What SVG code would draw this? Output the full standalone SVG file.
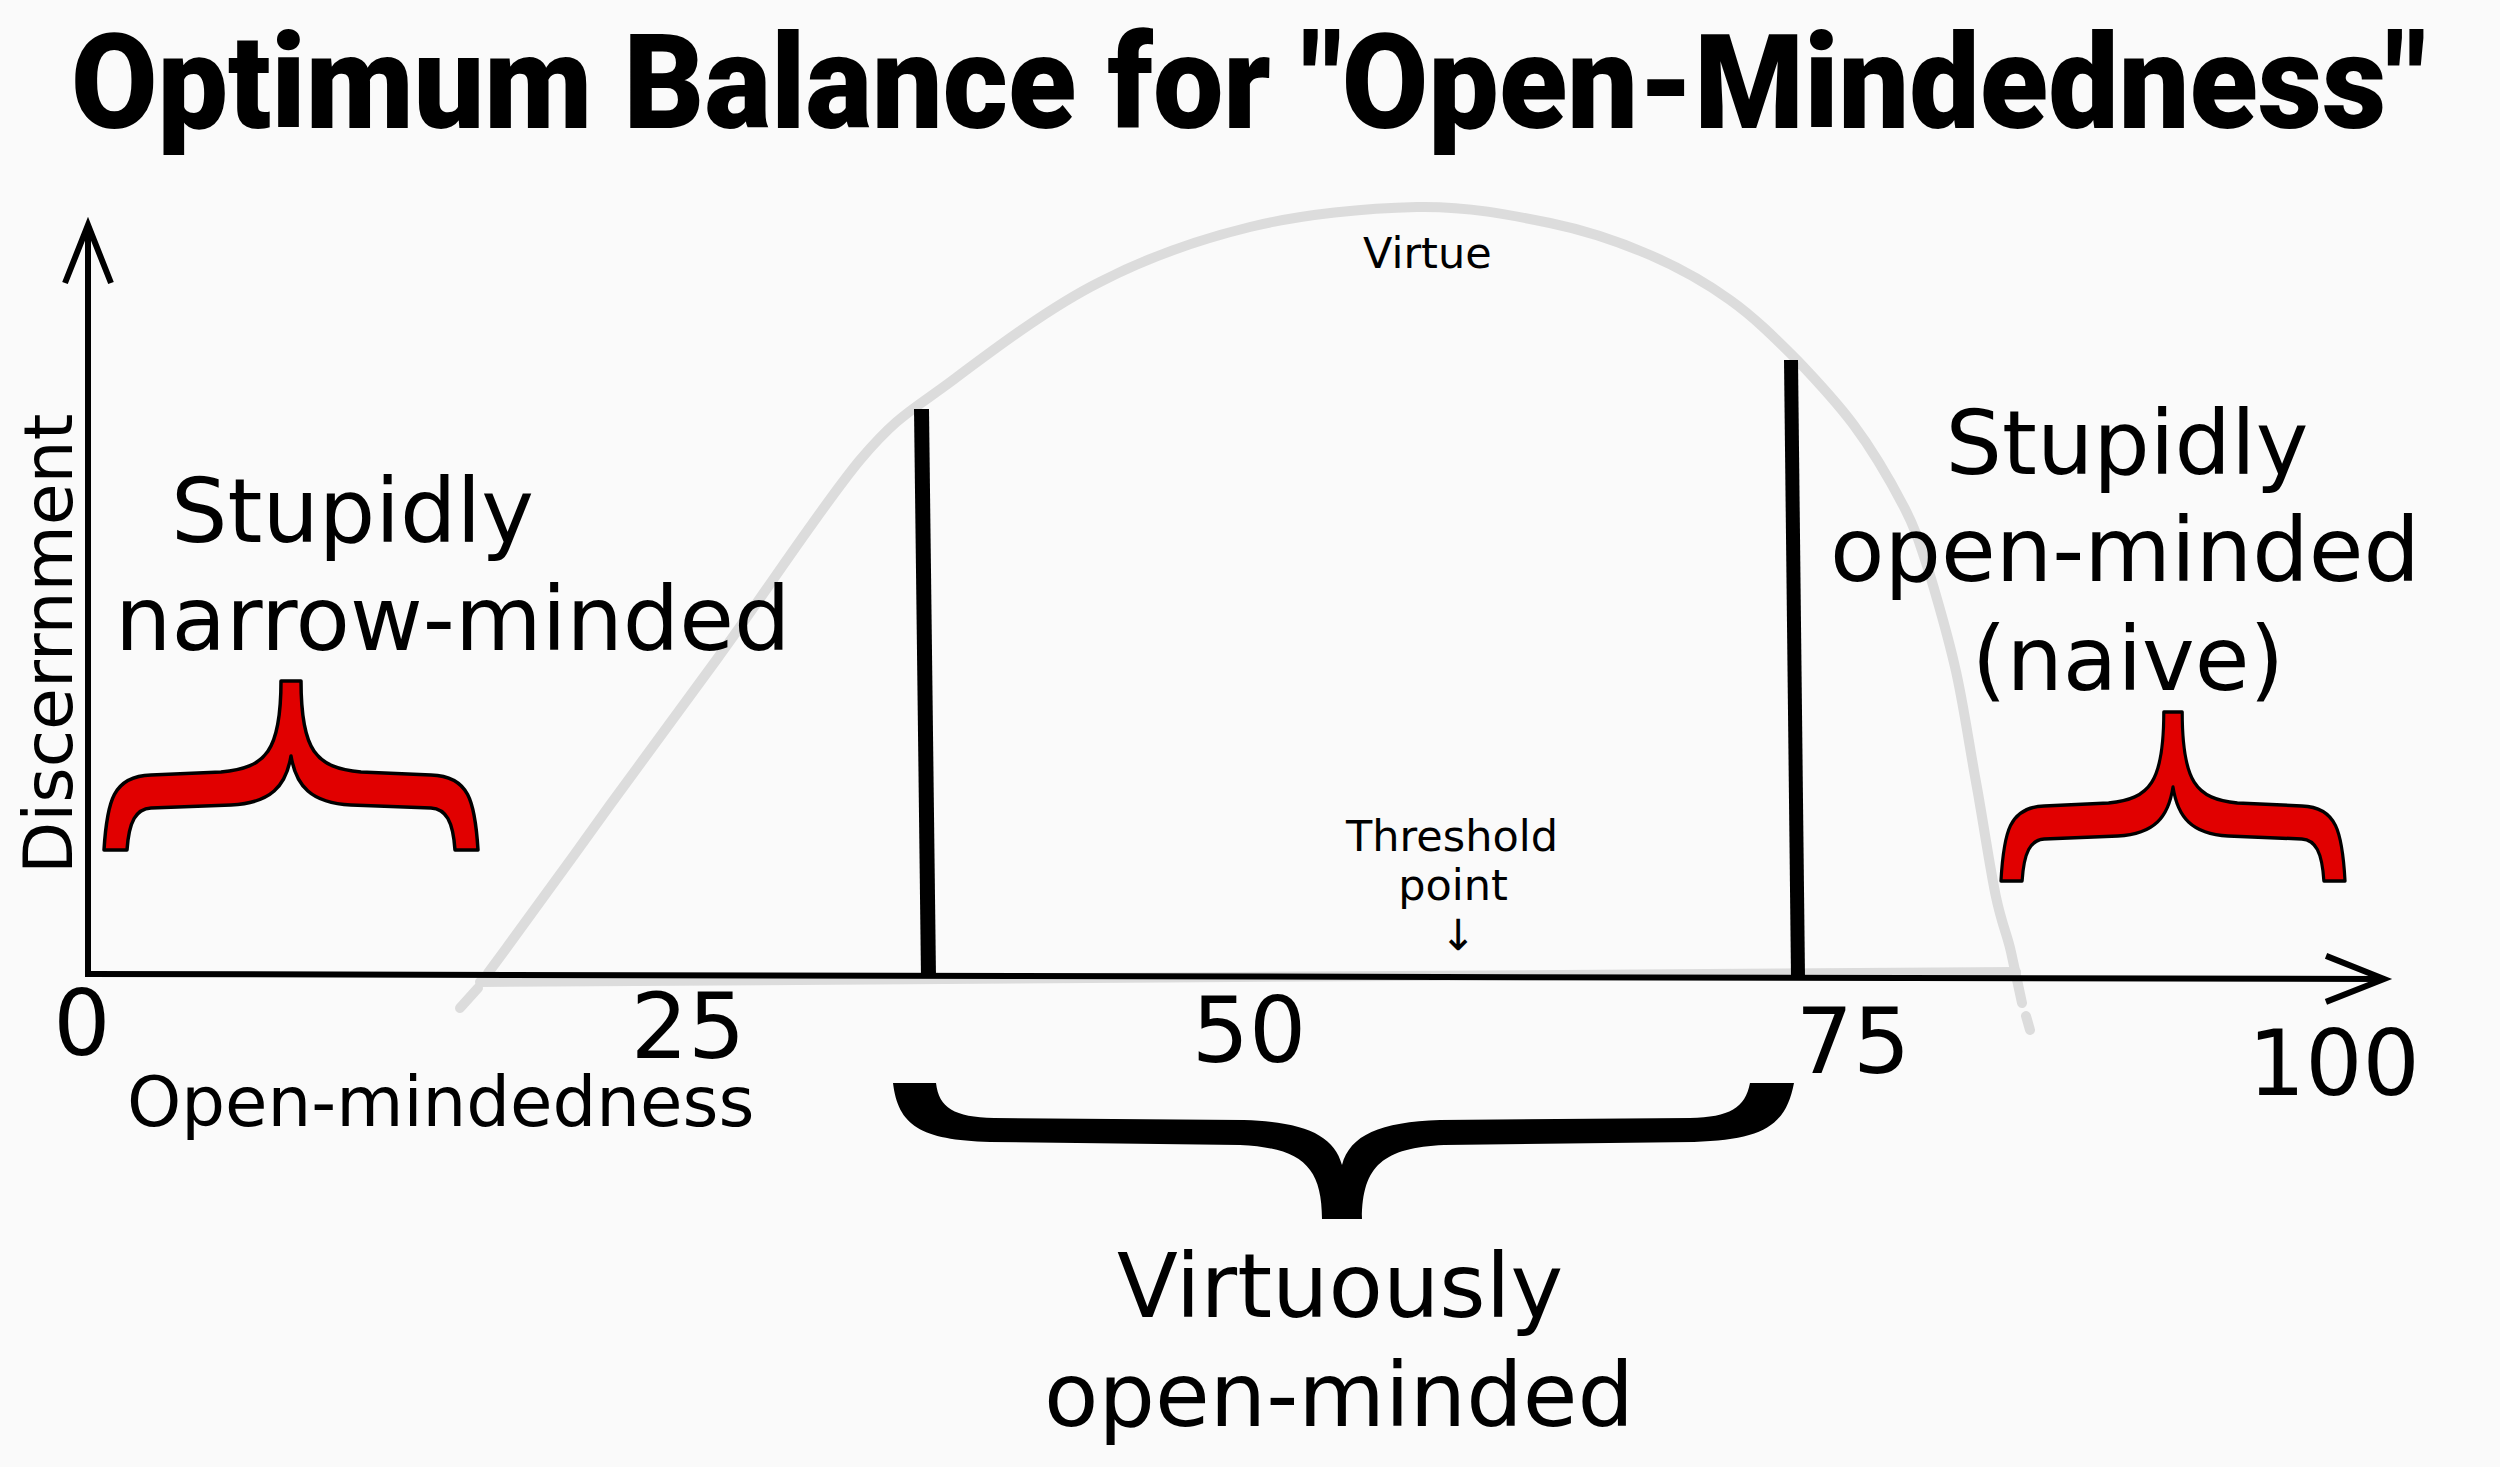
<svg xmlns="http://www.w3.org/2000/svg" width="2500" height="1467" viewBox="0 0 2500 1467">
<style>
.lbl{font-family:"DejaVu Sans","Liberation Sans",sans-serif;fill:#000}
.big{font-size:89px}
.num{font-size:90px;text-anchor:middle}
.small{font-size:43px}
.mid{text-anchor:middle}
.curve{fill:none;stroke:#dcdcdc;stroke-width:10;stroke-linecap:round;stroke-linejoin:round}
.axis{fill:none;stroke:#000;stroke-width:6}
.red{fill:#e10000;stroke:#000;stroke-width:3.5;stroke-linejoin:round}
</style>
<defs>
<marker id="arr" markerUnits="userSpaceOnUse" markerWidth="80" markerHeight="80" viewBox="-70 -40 80 80" refX="0" refY="0" orient="auto">
<path d="M-58,-23 L0,0 L-58,23" fill="none" stroke="#000" stroke-width="6"/>
</marker>
<path id="brace" d="M-187,169 C-184,120 -178,95 -140,94 L-70,91 C-25,87 -10,70 -10,0 L10,0 C10,70 25,87 70,91 L140,94 C178,95 184,120 187,169 L164,169 C162,140 155,128 140,127 L60,124 C20,122 5,105 0,75 C-5,105 -20,122 -60,124 L-140,127 C-155,128 -162,140 -164,169 Z"/>
</defs>
<rect width="2500" height="1467" fill="#fafafa"/>

<g id="title">
<text x="71" y="128" font-family="Roboto,'Liberation Sans',sans-serif" font-weight="900" font-size="131" textLength="2355" lengthAdjust="spacingAndGlyphs">Optimum Balance for "Open-Mindedness"</text>
</g>

<g id="virtue-curve">
<path class="curve" d="M488,973 L505,950 C530,916 575,854 610,805 C645,757 675,717 717,659 C759,602 821,507 860,460 C899,414 913,410 953,380 C993,350 1050,307 1100,282 C1150,256 1197,240 1250,227 C1303,214 1367,208 1417,207 C1467,206 1511,215 1550,223 C1589,231 1620,242 1650,255 C1680,268 1705,282 1730,300 C1754,317 1776,339 1797,360 C1817,381 1835,400 1853,424 C1871,448 1891,482 1904,507 C1917,532 1921,548 1930,575 C1938,602 1947,632 1955,667 C1963,701 1969,744 1976,782 C1983,820 1990,869 1996,897 C2002,925 2007,934 2011,952 C2015,970 2020,994 2022,1003"/>
<path class="curve" d="M478,988 L460,1008"/>
<path class="curve" d="M2026,1016 L2030,1030"/>
<path class="curve" stroke-width="8" d="M480,982 L2016,972"/>
</g>

<g id="connectors">
<line class="axis" x1="88" y1="977" x2="88" y2="225" marker-end="url(#arr)"/>
<line class="axis" x1="85" y1="974" x2="2384" y2="979" marker-end="url(#arr)"/>
</g>

<g id="threshold-bars">
<polygon points="914,409 929,409 936,977 921,977" fill="#000"/>
<polygon points="1784,360 1798,360 1805,977 1791,977" fill="#000"/>
</g>

<g id="axis-labels">
<text class="lbl" font-size="68" transform="translate(72,874) rotate(-90)">Discerrnment</text>
<text class="lbl" font-size="69" x="127" y="1126">Open-mindedness</text>
<text class="lbl num" x="82" y="1055">0</text>
<text class="lbl num" x="688" y="1058">25</text>
<text class="lbl num" x="1249" y="1062">50</text>
<text class="lbl num" x="1853" y="1073">75</text>
<text class="lbl num" x="2334" y="1095">100</text>
</g>

<g id="virtue">
<text class="lbl small" x="1363" y="268">Virtue</text>
</g>

<g id="threshold-point">
<text class="lbl small mid" x="1452" y="851">Threshold</text>
<text class="lbl small mid" x="1453" y="900">point</text>
<text class="lbl small mid" x="1458" y="950">↓</text>
</g>

<g id="narrow-minded">
<text class="lbl big" x="171" y="542">Stupidly</text>
<text class="lbl big" x="115" y="650">narrow-minded</text>
<use href="#brace" class="red" transform="translate(291,681)"/>
</g>

<g id="naive">
<text class="lbl big mid" x="2127" y="474">Stupidly</text>
<text class="lbl big mid" x="2125" y="581">open-minded</text>
<text class="lbl big mid" x="2128" y="690">(naive)</text>
<use href="#brace" class="red" transform="translate(2173,712) scale(0.92,1)"/>
</g>

<g id="virtuous">
<path d="M893,1083 C898,1125 920,1140 990,1142 L1240,1145 C1300,1148 1322,1165 1322,1219 L1362,1219 C1362,1165 1384,1148 1444,1145 L1694,1142 C1764,1140 1786,1125 1794,1083 L1750,1083 C1745,1108 1730,1117 1690,1118 L1440,1120 C1380,1122 1350,1135 1342,1165 C1334,1135 1304,1122 1244,1120 L994,1118 C954,1117 939,1108 936,1083 Z" fill="#000"/>
<text class="lbl big mid" x="1340" y="1317">Virtuously</text>
<text class="lbl big mid" x="1339" y="1426">open-minded</text>
</g>
</svg>
